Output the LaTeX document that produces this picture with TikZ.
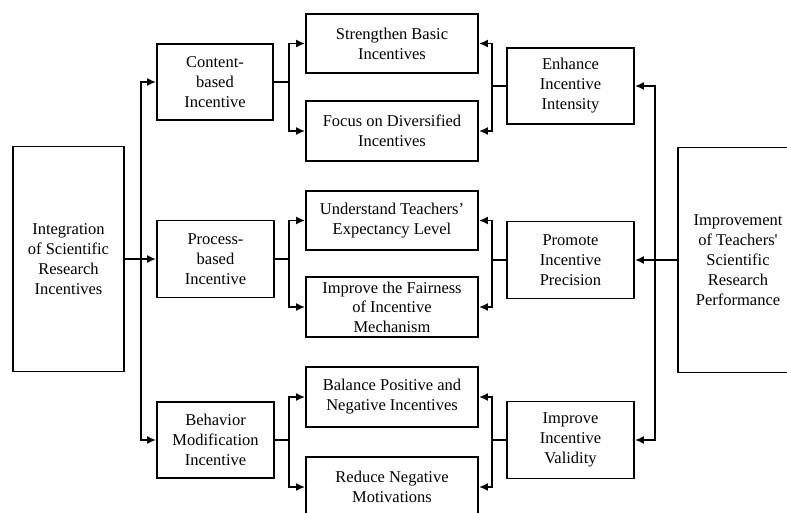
\documentclass[tikz,border=0pt]{standalone}
\usepackage{fontspec}
\setmainfont{Liberation Serif}[Ligatures=TeXOff]
\usetikzlibrary{arrows.meta}
\begin{document}
\begin{tikzpicture}[x=1pt,y=-1pt,
  box/.style={draw, line width=1.8pt, inner sep=0pt, align=center,
    font=\fontsize{16.5}{20}\selectfont},
  ln/.style={line width=1.8pt},
  arr/.style={ln, -{Latex[length=9pt,width=8pt]}},
  mainarr/.style={line width=2.6pt, -{Latex[length=9pt,width=8pt]}}]
\clip (0,0) rectangle (787,513);
\fill[white] (0,0) rectangle (787,513);
% left column
\node[box, minimum width=111pt, minimum height=225pt] (integ) at (68.5,259)
  {Integration\\of Scientific\\Research\\Incentives};
\node[box, minimum width=116pt, minimum height=76pt] (content) at (215,82)
  {Content-\\based\\Incentive};
\node[box, minimum width=117pt, minimum height=77pt] (process) at (215.5,259)
  {Process-\\based\\Incentive};
\node[box, minimum width=117pt, minimum height=76pt] (behav) at (215.5,440)
  {Behavior\\Modification\\Incentive};
% middle column
\node[box, minimum width=172pt, minimum height=59pt] (strength) at (392,43.5)
  {Strengthen Basic\\Incentives};
\node[box, minimum width=172pt, minimum height=60pt] (focus) at (392,131)
  {Focus on Diversified\\Incentives};
\node[box, minimum width=172pt, minimum height=59pt] (underst) at (392,220.5)
  {Understand Teachers’\\Expectancy Level};
\node[box, minimum width=172pt, minimum height=60pt, font=\fontsize{16.5}{19.5}\selectfont] (fair) at (392,307)
  {Improve the Fairness\\of Incentive\\Mechanism};
\node[box, minimum width=172pt, minimum height=60pt] (balance) at (392,397)
  {Balance Positive and\\Negative Incentives};
\node[box, minimum width=172pt, minimum height=60pt] (reduce) at (392,487)
  {Reduce Negative\\Motivations};
% right column
\node[box, minimum width=127pt, minimum height=76pt] (enhance) at (570.5,86)
  {Enhance\\Incentive\\Intensity};
\node[box, minimum width=127pt, minimum height=77pt] (promote) at (570.5,260)
  {Promote\\Incentive\\Precision};
\node[box, minimum width=127pt, minimum height=77pt] (valid) at (570.5,440)
  {Improve\\Incentive\\Validity};
\node[box, minimum width=120pt, minimum height=225pt] (improv) at (738,260)
  {Improvement\\of Teachers'\\Scientific\\Research\\Performance};
% bus coordinates
\coordinate (b0) at (141,0);
\coordinate (b1) at (289,0);
\coordinate (b2) at (492,0);
\coordinate (b3) at (655,0);
% left connectors
\draw[mainarr] (integ.east |- process.west) -- (process.west);
\draw[arr] (b0 |- process.west) |- (content.west);
\draw[arr] (b0 |- process.west) |- (behav.west);
% content -> strengthen/focus
\draw[ln] (content.east) -- (b1 |- content.east);
\draw[arr] (b1 |- content.east) |- (strength.west);
\draw[arr] (b1 |- content.east) |- (focus.west);
% process -> understand/fair
\draw[ln] (process.east) -- (b1 |- process.east);
\draw[arr] (b1 |- process.east) |- (underst.west);
\draw[arr] (b1 |- process.east) |- (fair.west);
% behav -> balance/reduce
\draw[ln] (behav.east) -- (b1 |- behav.east);
\draw[arr] (b1 |- behav.east) |- (balance.west);
\draw[arr] (b1 |- behav.east) |- (reduce.west);
% enhance -> strengthen/focus
\draw[ln] (enhance.west) -- (b2 |- enhance.west);
\draw[arr] (b2 |- enhance.west) |- (strength.east);
\draw[arr] (b2 |- enhance.west) |- (focus.east);
% promote -> understand/fair
\draw[ln] (promote.west) -- (b2 |- promote.west);
\draw[arr] (b2 |- promote.west) |- (underst.east);
\draw[arr] (b2 |- promote.west) |- (fair.east);
% valid -> balance/reduce
\draw[ln] (valid.west) -- (b2 |- valid.west);
\draw[arr] (b2 |- valid.west) |- (balance.east);
\draw[arr] (b2 |- valid.west) |- (reduce.east);
% right bus
\draw[mainarr] (improv.west |- promote.east) -- (promote.east);
\draw[arr] (b3 |- promote.east) |- (enhance.east);
\draw[arr] (b3 |- promote.east) |- (valid.east);
\end{tikzpicture}
\end{document}
